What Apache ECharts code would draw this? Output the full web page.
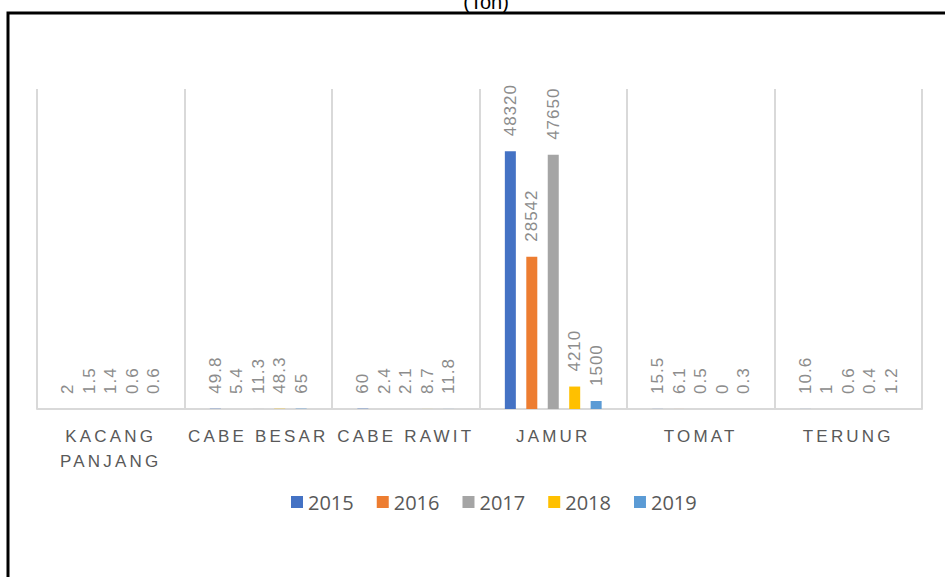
<!DOCTYPE html>
<html>
<head>
<meta charset="utf-8" />
<title>produksi</title>
<style>
  html, body { margin: 0; padding: 0; background: #fff; }
  #chart { width: 945px; height: 577px; }
</style>
<script src="https://cdn.jsdelivr.net/npm/echarts@6/dist/echarts.min.js"></script>
</head>
<body>
<div id="chart"></div>
<script>
// data
var categories = ['KACANG\nPANJANG', 'CABE BESAR', 'CABE RAWIT', 'JAMUR', 'TOMAT', 'TERUNG'];
var years = ['2015', '2016', '2017', '2018', '2019'];
var v2015 = [2, 49.8, 60, 48320, 15.5, 10.6];
var v2016 = [1.5, 5.4, 2.4, 28542, 6.1, 1];
var v2017 = [1.4, 11.3, 2.1, 47650, 0.5, 0.6];
var v2018 = [0.6, 48.3, 8.7, 4210, 0, 0.4];
var v2019 = [0.6, 65, 11.8, 1500, 0.3, 1.2];
var values = [v2015, v2016, v2017, v2018, v2019];
var colors = ['#4472C4', '#ED7D31', '#A5A5A5', '#FFC000', '#5B9BD5'];

var chart = echarts.init(document.getElementById('chart'), null, { renderer: 'svg' });

var series = years.map(function (y, i) {
  return {
    name: y,
    type: 'bar',
    data: values[i],
    barWidth: 11,
    barGap: '95%',
    itemStyle: { color: colors[i] },
    label: {
      show: true,
      position: 'top',
      rotate: 90,
      align: 'left',
      verticalAlign: 'middle',
      distance: 15,
      color: '#8c8c8c',
      fontFamily: 'Liberation Sans',
      fontSize: 17
    }
  };
});

chart.setOption({
  animation: false,
  title: {
    text: '(Ton)',
    left: 481,
    top: -13,
    textAlign: 'center',
    textStyle: { fontSize: 20, fontWeight: 'normal', color: '#000', fontFamily: 'Liberation Sans' }
  },
  graphic: [{
    type: 'polyline',
    shape: { points: [[8, 600], [8, 13], [960, 13]] },
    style: { stroke: '#000', lineWidth: 3, fill: null }
  }],
  legend: {
    data: years,
    left: 286,
    top: 487,
    icon: 'rect',
    itemWidth: 12,
    itemHeight: 12,
    itemGap: 23,
    textStyle: { fontSize: 20, color: '#595959', fontFamily: 'Open Sans' }
  },
  grid: { left: 37, right: 23, top: 89, bottom: 168 },
  xAxis: {
    type: 'category',
    data: categories,
    axisLine: { lineStyle: { color: '#d9d9d9', width: 2 } },
    axisTick: { show: false },
    splitLine: { show: true, lineStyle: { color: '#d9d9d9', width: 2 } },
    axisLabel: {
      margin: 15,
      fontSize: 17,
      lineHeight: 25,
      color: '#595959',
      fontFamily: 'Liberation Sans',
      interval: 0
    }
  },
  yAxis: {
    type: 'value',
    min: 0,
    max: 60000,
    show: false,
    splitLine: { show: false }
  },
  series: series
});

// spread the letters the way the original does
function spread() {
  var names = ['KACANG', 'PANJANG', 'CABE BESAR', 'CABE RAWIT', 'JAMUR', 'TOMAT', 'TERUNG'];
  var texts = document.querySelectorAll('#chart svg text, #chart svg tspan');
  for (var i = 0; i < texts.length; i++) {
    var t = texts[i].textContent.trim();
    if (names.indexOf(t) >= 0) {
      texts[i].setAttribute('letter-spacing', '3.2');
      texts[i].style.letterSpacing = '3.2px';
    } else if (/^[0-9.]+$/.test(t) && years.indexOf(t) < 0) {
      texts[i].setAttribute('letter-spacing', '1');
      texts[i].style.letterSpacing = '1px';
    }
  }
}
chart.on('finished', function () { setTimeout(spread, 0); });
setTimeout(spread, 100);
setTimeout(spread, 400);
</script>
</body>
</html>
